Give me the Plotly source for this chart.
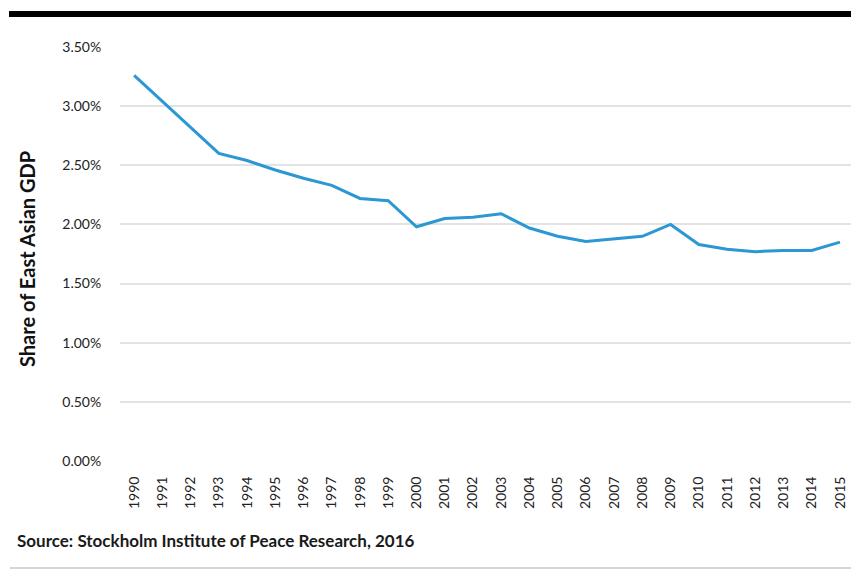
import plotly.graph_objects as go

years = list(range(1990, 2016))
share_pct = [3.26, 3.04, 2.82, 2.60, 2.54, 2.46, 2.39, 2.33, 2.22, 2.20,
             1.98, 2.05, 2.06, 2.09, 1.97, 1.90, 1.855, 1.88, 1.90, 2.00,
             1.83, 1.79, 1.77, 1.78, 1.78, 1.85]
y_ticks = [0, 0.5, 1.0, 1.5, 2.0, 2.5, 3.0, 3.5]
y_title = "Share of East Asian GDP"
source_text = "Source: Stockholm Institute of Peace Research, 2016"

W, H = 851, 570
L, R, T, B = 120, 0, 47, 109
pw, ph = W - L - R, H - T - B

def px_x(px):
    return (px - L) / pw

def px_y(py):
    return (H - B - py) / ph

fig = go.Figure()
fig.add_trace(go.Scatter(
    x=years, y=share_pct, mode="lines",
    line=dict(color="#2b97d3", width=3),
    hoverinfo="skip", showlegend=False,
))

fig.update_layout(
    width=W, height=H,
    margin=dict(l=L, r=R, t=T, b=B),
    paper_bgcolor="white", plot_bgcolor="white",
    font=dict(family="Lato, Open Sans, sans-serif", color="#333333"),
    xaxis=dict(
        range=[1989.5, 2015.39],
        tickmode="array", tickvals=years, ticktext=[str(y) for y in years],
        tickangle=-90, tickfont=dict(size=14, color="#222222"),
        showgrid=False, zeroline=False, showline=False,
        ticks="outside", ticklen=9, tickcolor="rgba(0,0,0,0)",
    ),
    yaxis=dict(
        range=[0, 3.5],
        tickmode="array", tickvals=y_ticks,
        ticktext=[f"{v:.2f}%" for v in y_ticks],
        tickfont=dict(size=14, color="#222222"),
        showgrid=True, gridcolor="#e3e3e3", gridwidth=2,
        zeroline=False, showline=False,
        ticks="outside", ticklen=15, tickcolor="rgba(0,0,0,0)",
    ),
    shapes=[
        dict(type="rect", xref="paper", yref="paper",
             x0=px_x(9), x1=px_x(851), y0=px_y(17), y1=px_y(11),
             fillcolor="black", line=dict(width=0)),
        dict(type="line", xref="paper", yref="paper",
             x0=px_x(10), x1=px_x(851), y0=px_y(568), y1=px_y(568),
             line=dict(color="#c8c8c8", width=1.5)),
    ],
    annotations=[
        dict(text=y_title, xref="paper", yref="paper",
             x=px_x(27), y=px_y(259), textangle=-90, showarrow=False,
             xanchor="center", yanchor="middle",
             font=dict(size=20, color="#111111", family="Lato, sans-serif", weight="bold")),
        dict(text=source_text, xref="paper", yref="paper",
             x=px_x(15), y=px_y(540), showarrow=False,
             xanchor="left", yanchor="middle",
             font=dict(size=17, color="#1a1a1a", family="Lato, sans-serif", weight="bold")),
    ],
)

fig.write_html("out.html")
